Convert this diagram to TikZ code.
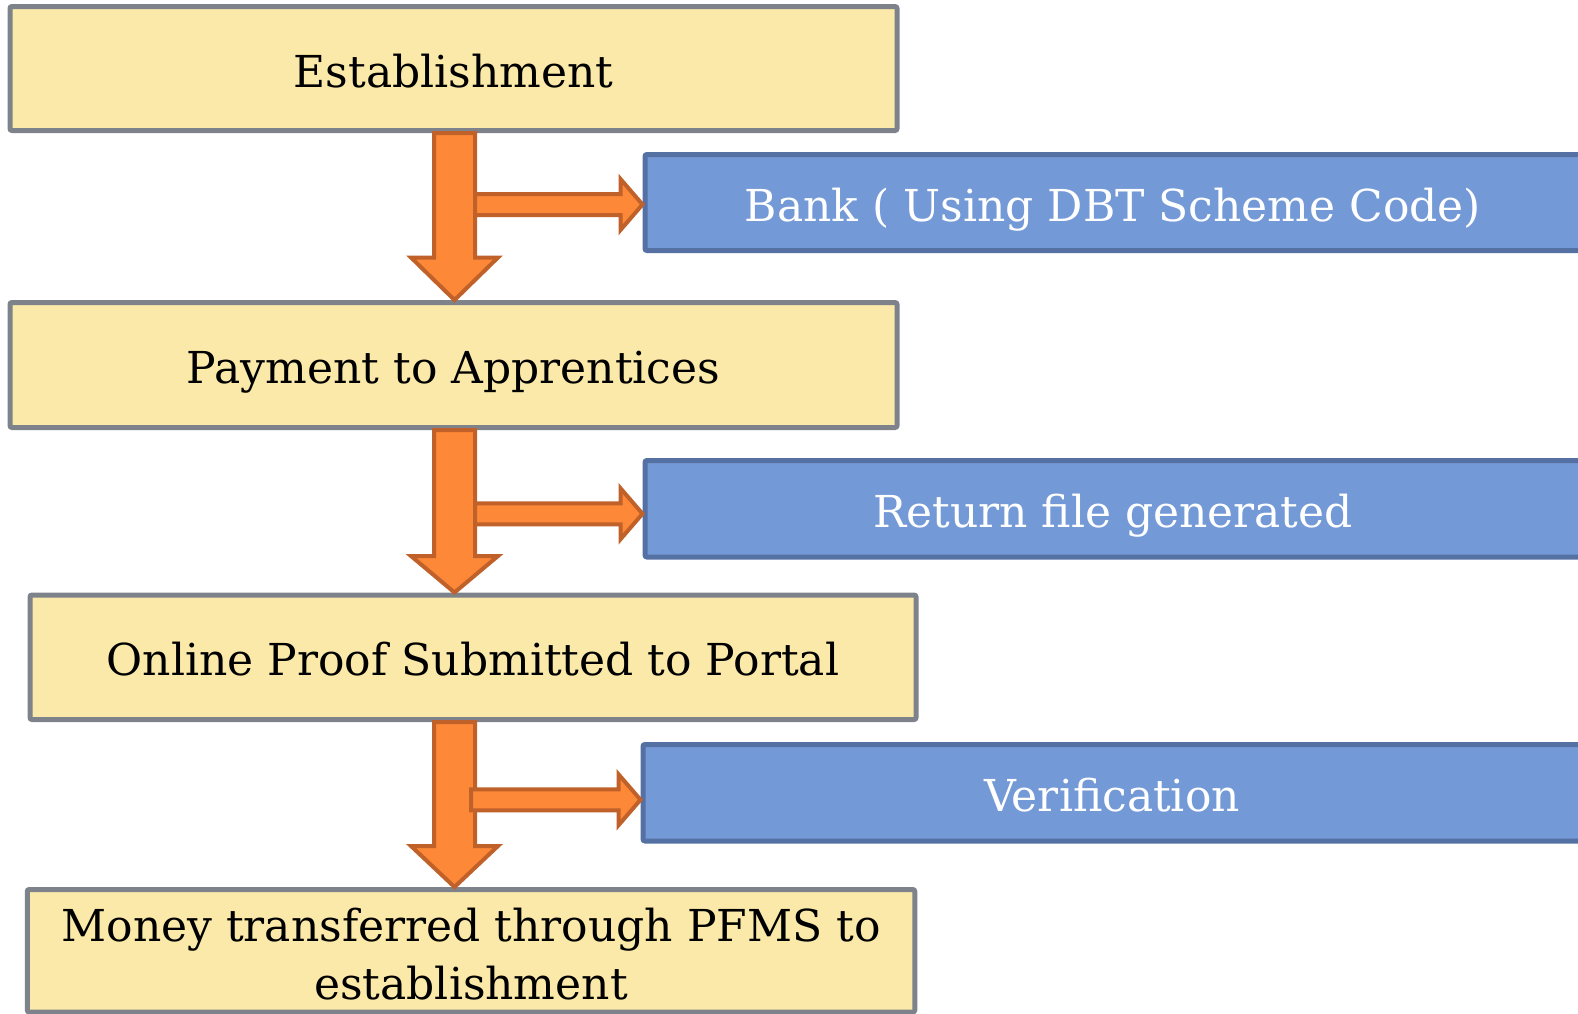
\documentclass[tikz,border=0pt]{standalone}
\usepackage{fontspec}
\setmainfont{DejaVu Serif}
\usetikzlibrary{calc}

\definecolor{stepfill}{HTML}{FAE9A8}
\definecolor{stepline}{HTML}{7E828A}
\definecolor{notefill}{HTML}{7499D7}
\definecolor{noteline}{HTML}{5571A4}
\definecolor{flowfill}{HTML}{FD8837}
\definecolor{flowline}{HTML}{C1612A}

\tikzset{
  boxtext/.style={font=\fontsize{44}{58}\selectfont, text height=40, text depth=3},
  stepbox/.style={boxtext, draw=stepline, fill=stepfill, line width=5,
    rounded corners=2, inner sep=0, align=center, text=black},
  notebox/.style={boxtext, draw=noteline, fill=notefill, line width=5,
    rounded corners=2, inner sep=0, align=center, text=white},
  flowarrow/.style={draw=flowline, fill=flowfill, line width=4, line join=miter}
}

% block arrow going down from node #1 to node #2, head length #3
\newcommand{\flowdown}[3]{%
  \draw[flowarrow]
    ($(axis |- #1.south)+(-20.5,0)$) -- ($(axis |- #2.north)+(-20.5,-#3)$)
    -- ($(axis |- #2.north)+(-43.5,-#3)$) -- (axis |- #2.north)
    -- ($(axis |- #2.north)+(43.5,-#3)$) -- ($(axis |- #2.north)+(20.5,-#3)$)
    -- ($(axis |- #1.south)+(20.5,0)$) -- cycle;
}
% block arrow branching right from the main column into node #1,
% vertical offset #2, left end at #3 from the column axis
\newcommand{\flowright}[3]{%
  \coordinate (tip) at ($(#1.west)+(0,#2)$);
  \draw[flowarrow]
    ($(axis |- tip)+(#3,-10.5)$) -- ($(tip)+(-22,-10.5)$)
    -- ($(tip)+(-22,-25.5)$) -- (tip) -- ($(tip)+(-22,25.5)$)
    -- ($(tip)+(-22,10.5)$) -- ($(axis |- tip)+(#3,10.5)$) -- cycle;
}

\begin{document}
\begin{tikzpicture}[x=1pt,y=-1pt]
  \useasboundingbox (0,0) rectangle (1578,1013);
  \clip (0,0) rectangle (1578,1013);

  \coordinate (axis) at (454.5,0);

  % main steps
  \node[stepbox, minimum width=887, minimum height=124] (est) at (453.5,68.5) {Establishment};
  \node[stepbox, minimum width=887, minimum height=125] (pay) at (453.5,365) {Payment to Apprentices};
  \node[stepbox, minimum width=886, minimum height=124.5] (proof) at (473,657.25) {Online Proof Submitted to Portal};
  \node[stepbox, minimum width=887.5, minimum height=122.5, text height=100, text depth=2]
    (money) at (471,950.75) {Money transferred through PFMS to\\establishment};

  % side notes
  \node[notebox, minimum width=936, minimum height=96] (bank) at (1113,202.5) {Bank ( Using DBT Scheme Code)};
  \node[notebox, minimum width=936, minimum height=96.5] (ret) at (1113,508.75) {Return file generated};
  \node[notebox, minimum width=938, minimum height=96.5] (ver) at (1112,792.75) {Verification};

  % flow arrows
  \flowdown{est}{pay}{42.5}
  \flowright{bank}{2}{20.5}
  \flowdown{pay}{proof}{36.5}
  \flowright{ret}{5}{20.5}
  \flowdown{proof}{money}{41}
  \flowright{ver}{7}{16.5}
\end{tikzpicture}
\end{document}
